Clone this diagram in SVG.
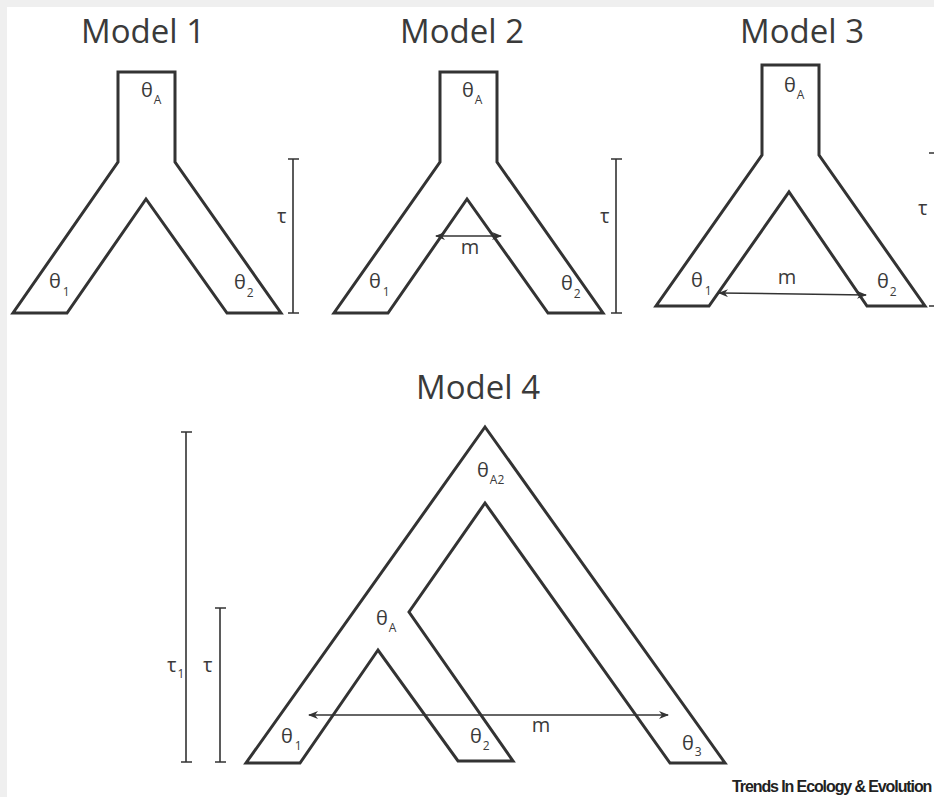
<svg xmlns="http://www.w3.org/2000/svg" width="934" height="797" viewBox="0 0 934 797">
<defs>
<marker id="ah" viewBox="0 0 10 8" refX="9" refY="4" markerWidth="10" markerHeight="8" markerUnits="userSpaceOnUse" orient="auto-start-reverse">
<path d="M0,0 L10,4 L0,8 L3,4 Z" fill="#333"/>
</marker>
</defs>
<style>
.shape{fill:none;stroke:#333;stroke-width:3;stroke-linejoin:miter}
.bar{fill:none;stroke:#333;stroke-width:1.6}
.arr{fill:none;stroke:#333;stroke-width:1.5}
.title{font-family:"Open Sans","DejaVu Sans",sans-serif;font-size:33px;fill:#3a3a3a;text-anchor:middle}
.lbl{font-family:"Open Sans","DejaVu Sans",sans-serif;font-size:20px;fill:#3a3a3a}
.sub{font-size:12px}
.foot{font-family:"Liberation Sans",Arial,sans-serif;font-weight:bold;font-size:16px;letter-spacing:-1.1px;fill:#222}
</style>
<rect x="0" y="0" width="934" height="797" fill="#ffffff"/>
<rect x="0" y="0" width="934" height="7" fill="#efefef"/>
<rect x="0" y="0" width="7" height="797" fill="#efefef"/>

<g id="model1">
<text class="title" x="143" y="43">Model 1</text>
<path class="shape" d="M118,72 H175 V162 L281,313 H227 L146,199 L67,313 H13 L118,162 Z"/>
<text class="lbl" x="141" y="97">θ<tspan class="sub" dx="1" dy="7">A</tspan></text>
<text class="lbl" x="49" y="288">θ<tspan class="sub" dx="2" dy="8">1</tspan></text>
<text class="lbl" x="234" y="289">θ<tspan class="sub" dx="1" dy="8">2</tspan></text>
<path class="bar" d="M293,159 V313 M288,159 H299 M288,313 H299"/>
<text class="lbl" x="277" y="223">τ</text>
</g>

<g id="model2">
<text class="title" x="462" y="43">Model 2</text>
<path class="shape" d="M440,72 H497 V162 L603,313 H548 L467,199 L388,313 H334 L440,162 Z"/>
<text class="lbl" x="462" y="97">θ<tspan class="sub" dx="1" dy="7">A</tspan></text>
<text class="lbl" x="369" y="288">θ<tspan class="sub" dx="2" dy="8">1</tspan></text>
<text class="lbl" x="561" y="290">θ<tspan class="sub" dx="1" dy="8">2</tspan></text>
<path class="bar" d="M616,159 V313 M611,159 H622 M611,313 H622"/>
<text class="lbl" x="600" y="223">τ</text>
<text class="lbl" x="470" y="254" text-anchor="middle">m</text>
</g>

<g id="model3">
<text class="title" x="802" y="43">Model 3</text>
<path class="shape" d="M762,65 H819 V155 L925,306 H867 L789,192 L709,306 H656 L762,155 Z"/>
<text class="lbl" x="784" y="92">θ<tspan class="sub" dx="1" dy="7">A</tspan></text>
<text class="lbl" x="691" y="287">θ<tspan class="sub" dx="2" dy="8">1</tspan></text>
<text class="lbl" x="877" y="288">θ<tspan class="sub" dx="1" dy="8">2</tspan></text>
<path class="bar" d="M929,153 H934 M929,306 H934"/>
<text class="lbl" x="918" y="215">τ</text>
<text class="lbl" x="787" y="284" text-anchor="middle">m</text>
</g>

<g id="model4">
<text class="title" x="478" y="399">Model 4</text>
<path class="shape" d="M485,427 L725,763 H670 L485,503 L409,612 L513,761 H458 L378,650 L300,763 H246 Z"/>
<text class="lbl" x="477" y="477">θ<tspan class="sub" dx="1" dy="7">A2</tspan></text>
<text class="lbl" x="376" y="625">θ<tspan class="sub" dx="1" dy="7">A</tspan></text>
<text class="lbl" x="281" y="743">θ<tspan class="sub" dx="2" dy="7">1</tspan></text>
<text class="lbl" x="470" y="743">θ<tspan class="sub" dx="1" dy="7">2</tspan></text>
<text class="lbl" x="682" y="750">θ<tspan class="sub" dx="1" dy="6">3</tspan></text>
<path class="bar" d="M186,432 V762 M181,432 H192 M181,762 H192"/>
<path class="bar" d="M220,608 V762 M215,608 H226 M215,762 H226"/>
<text class="lbl" x="167" y="672">τ<tspan class="sub" dx="1" dy="6">1</tspan></text>
<text class="lbl" x="203" y="672">τ</text>
<text class="lbl" x="541" y="732" text-anchor="middle">m</text>
</g>

<g id="connectors">
<line class="arr" x1="436" y1="236" x2="501" y2="236" marker-start="url(#ah)" marker-end="url(#ah)"/>
<line class="arr" x1="719" y1="293" x2="866" y2="295" marker-start="url(#ah)" marker-end="url(#ah)"/>
<line class="arr" x1="309" y1="715" x2="668" y2="715" marker-start="url(#ah)" marker-end="url(#ah)"/>
</g>

<text class="foot" x="732" y="792">Trends In Ecology &amp; Evolution</text>
</svg>
